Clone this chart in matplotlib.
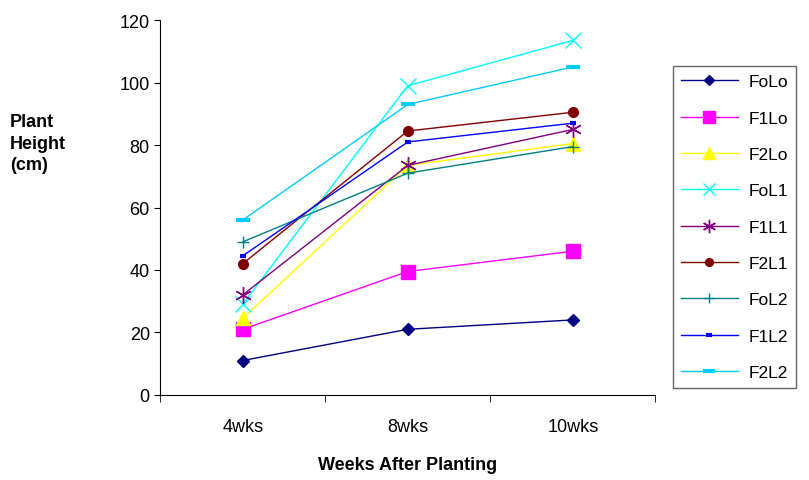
import matplotlib.pyplot as plt
import numpy as np

plt.rcParams['font.family'] = ['Liberation Sans', 'DejaVu Sans']

# data
weeks = ['4wks', '8wks', '10wks']
folo = [11, 21, 24]
f1lo = [21, 39.5, 46]
f2lo = [24.5, 73.5, 80.5]
fol1 = [29, 99, 113.5]
f1l1 = [32, 73.5, 85]
f2l1 = [42, 84.5, 90.5]
fol2 = [49, 71, 79.5]
f1l2 = [44.5, 81, 87]
f2l2 = [56, 93, 105]

series = [
    ('FoLo', folo, '#000080', 'D', 6, 1),
    ('F1Lo', f1lo, '#FF00FF', 's', 10, 1),
    ('F2Lo', f2lo, '#FFFF00', '^', 10, 1),
    ('FoL1', fol1, '#00FFFF', 'x', 11, 1),
    ('F1L1', f1l1, '#800080', (6, 2, 0), 12, 1),
    ('F2L1', f2l1, '#800000', 'o', 7, 1),
    ('FoL2', fol2, '#008080', '+', 9, 1),
    ('F1L2', f1l2, '#0000FF', '_', 5, 3),
    ('F2L2', f2l2, '#00CCFF', '_', 10, 3),
]

fig = plt.figure(figsize=(8.09, 4.81), dpi=100)
ax = fig.add_axes([0.198, 0.177, 0.612, 0.779])

x = np.arange(len(weeks))
for name, vals, color, marker, ms, mew in series:
    ax.plot(x, vals, color=color, marker=marker, markersize=ms,
            markeredgewidth=mew, linewidth=1, label=name)

ax.set_xlim(-0.5, 2.5)
ax.set_ylim(0, 120)
ax.set_yticks(np.arange(0, 121, 20))
ax.set_xticks(x)
ax.set_xticklabels(weeks, fontsize=13)
ax.set_xticks([-0.5, 0.5, 1.5, 2.5], minor=True)
ax.tick_params(axis='x', which='major', length=0, pad=17)
ax.tick_params(axis='x', which='minor', length=5, direction='out')
ax.tick_params(axis='y', labelsize=13, length=4, direction='out')

for s in ['top', 'right']:
    ax.spines[s].set_visible(False)

ax.set_xlabel('Weeks After Planting', fontsize=13, fontweight='bold', labelpad=15)
fig.text(0.012, 0.70, 'Plant\nHeight\n(cm)', fontsize=13, fontweight='bold',
         ha='left', va='center', linespacing=1.35)

leg = ax.legend(loc='upper left', bbox_to_anchor=(1.018, 0.9), fontsize=12.5,
                frameon=True, fancybox=False, edgecolor='#404040',
                handlelength=3.3, handletextpad=0.6, labelspacing=1.22,
                borderpad=0.45, markerscale=0.8)
leg.get_frame().set_linewidth(1)

fig.savefig('out.png', dpi=100)
